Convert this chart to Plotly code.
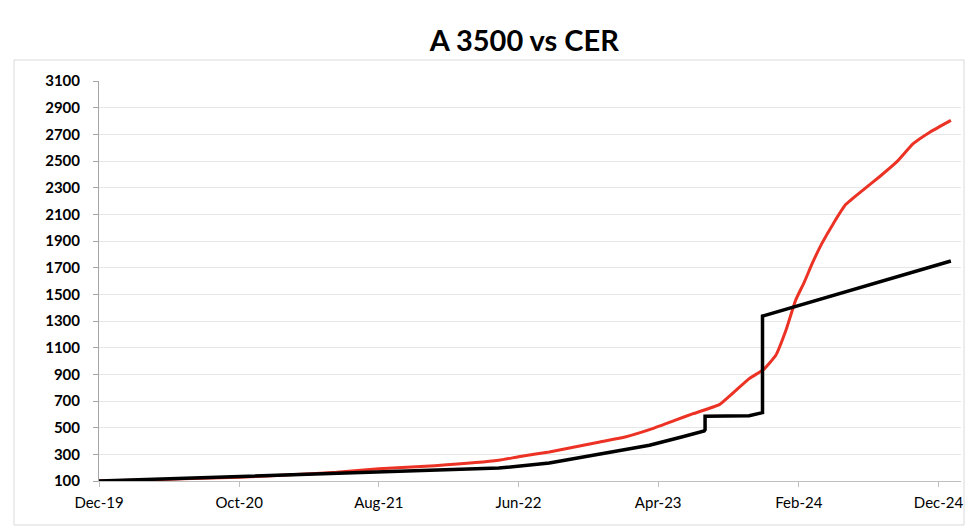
import plotly.graph_objects as go

# CER (red) series
cer_dates = ["2019-12-01", "2020-03-01", "2020-06-01", "2020-10-01", "2021-02-01", "2021-05-01",
             "2021-08-01", "2021-12-01", "2022-04-19", "2022-06-01", "2022-08-07", "2022-11-25",
             "2023-01-19", "2023-03-13", "2023-05-07", "2023-06-16", "2023-08-13", "2023-10-16",
             "2023-11-16", "2023-12-13", "2024-01-04", "2024-01-25", "2024-02-13", "2024-03-01",
             "2024-03-22", "2024-04-16", "2024-05-13", "2024-06-19", "2024-07-25", "2024-09-01",
             "2024-10-07", "2024-11-13", "2024-12-28"]
cer_values = [100, 107, 116, 128, 148, 165,
              192, 215, 255, 282, 318, 393,
              430, 485, 555, 605, 675, 868,
              935, 1043, 1230, 1455, 1592, 1730,
              1880, 2030, 2173, 2280, 2380, 2493,
              2630, 2718, 2805]

# A 3500 (black) series
a3500_dates = ["2019-12-01", "2020-04-01", "2020-10-01", "2021-04-01", "2021-08-01", "2022-01-01",
               "2022-04-19", "2022-08-07", "2022-11-25", "2023-03-13", "2023-05-22", "2023-07-10",
               "2023-07-12", "2023-07-12", "2023-10-16", "2023-11-14", "2023-11-14", "2024-12-28"]
a3500_values = [100, 113, 138, 155, 167, 183,
                197, 235, 300, 368, 430, 475,
                485, 585, 590, 613, 1337, 1750]

tick_dates = ["2019-12-01", "2020-10-01", "2021-08-01", "2022-06-01", "2023-04-01", "2024-02-01", "2024-12-01"]
tick_labels = ["Dec-19", "Oct-20", "Aug-21", "Jun-22", "Apr-23", "Feb-24", "Dec-24"]
y_ticks = list(range(100, 3101, 200))

fig = go.Figure()
fig.add_trace(go.Scatter(x=cer_dates, y=cer_values, mode="lines", name="CER",
                         line=dict(color="#ec3224", width=3, shape="spline", smoothing=0.4)))
fig.add_trace(go.Scatter(x=a3500_dates, y=a3500_values, mode="lines", name="A 3500",
                         line=dict(color="#000000", width=3.5)))

fig.update_layout(
    width=980, height=532,
    margin=dict(l=99, r=19, t=81, b=51),
    paper_bgcolor="white", plot_bgcolor="white",
    showlegend=False,
    title=dict(text="<b>A 3500 vs CER</b>", x=0.535, xref="container", y=1 - 41 / 532,
               yref="container", xanchor="center", yanchor="middle",
               font=dict(family="Lato", size=29, color="#000000")),
    font=dict(family="Lato", color="#000000"),
)
fig.update_xaxes(
    type="date", range=["2019-12-01", "2025-01-19"],
    tickvals=tick_dates, ticktext=tick_labels,
    showgrid=False, showline=True, linecolor="#bfbfbf", linewidth=1,
    ticks="outside", ticklen=5, tickcolor="#bfbfbf",
    tickfont=dict(family="Lato", size=15, color="#000000"),
    ticklabelstandoff=3,
)
fig.update_yaxes(
    range=[100, 3100], tickvals=y_ticks,
    showgrid=True, gridcolor="#e6e6e6", gridwidth=1,
    showline=True, linecolor="#a6a6a6", linewidth=1,
    ticks="outside", ticklen=5, tickcolor="#a6a6a6",
    tickfont=dict(family="Lato", size=15, color="#000000", weight="bold"),
    ticklabelstandoff=10, zeroline=False,
)
fig.add_shape(type="rect", xref="paper", yref="paper",
              x0=-0.0986, x1=1.0035, y0=-0.11, y1=1.0525,
              line=dict(color="#d9d9d9", width=1), fillcolor="rgba(0,0,0,0)", layer="below")

fig.write_html("out.html")
